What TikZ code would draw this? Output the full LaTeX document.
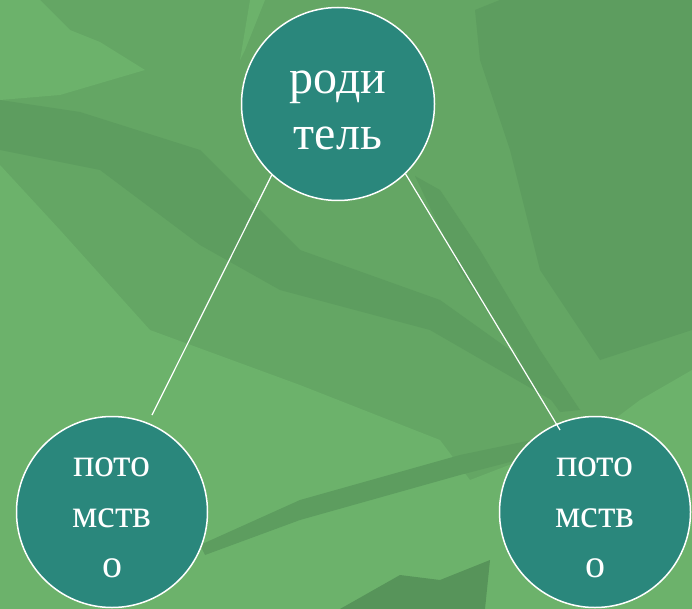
\documentclass[tikz,border=0pt]{standalone}
\usepackage{fontspec}
\setmainfont{Liberation Serif}
\definecolor{bgbase}{HTML}{64A664}
\definecolor{bglight}{HTML}{6CB26B}
\definecolor{bgdark}{HTML}{5D9D5F}
\definecolor{bgdarker}{HTML}{57945A}
\definecolor{tealfill}{HTML}{2A877C}
\tikzset{
  bubble/.style={circle, draw=white, line width=1.5pt, fill=tealfill, inner sep=0pt},
  bigbubble/.style={bubble, minimum size=193pt},
  smallbubble/.style={bubble, minimum size=191pt},
  bigtext/.style={text=white, align=center, inner sep=0pt, font=\fontsize{48}{56}\selectfont},
  smalltext/.style={text=white, align=center, inner sep=0pt, font=\fontsize{40}{50.5}\selectfont},
  link/.style={draw=white, line width=1.2pt}
}
\begin{document}
\begin{tikzpicture}[x=1pt,y=-1pt]
\useasboundingbox (0,0) rectangle (692,609);
% background
\fill[bgbase] (0,0) rectangle (692,609);
\fill[bglight] (0,0) -- (40,0) -- (70,30) -- (100,42) -- (145,70) -- (60,95) -- (0,100) -- cycle;
\fill[bglight] (250,0) -- (265,0) -- (245,50) -- (240,60) -- cycle;
\fill[bglight] (590,0) -- (612,0) -- (692,170) -- (692,215) -- cycle;
\fill[bglight] (0,165) -- (60,230) -- (150,330) -- (300,385) -- (440,440) -- (470,480) -- (600,430) -- (640,400) -- (692,370) -- (692,609) -- (0,609) -- cycle;
\fill[bgdark] (0,100) -- (80,112) -- (200,150) -- (300,250) -- (440,300) -- (552,380) -- (560,405) -- (430,330) -- (280,290) -- (200,245) -- (100,170) -- (0,150) -- cycle;
\fill[bgdark] (415,176) -- (440,190) -- (480,250) -- (540,350) -- (580,410) -- (560,412) -- (500,330) -- (460,270) -- cycle;
\fill[bgdark] (200,545) -- (300,500) -- (460,455) -- (580,430) -- (575,445) -- (460,475) -- (300,520) -- (205,555) -- cycle;
\fill[bgdark] (475,10) -- (480,60) -- (510,150) -- (540,270) -- (600,360) -- (692,330) -- (692,0) -- (500,0) -- cycle;
\fill[bgdarker] (340,609) -- (400,575) -- (440,580) -- (490,560) -- (485,609) -- cycle;
% nodes
\node[bigbubble] (parent) at (338,104) {};
\node[smallbubble] (childL) at (112,512) {};
\node[smallbubble] (childR) at (595,512) {};
\node[bigtext] (parenttext) at ([yshift=-6pt]parent.center) {роди\\тель};
\node[smalltext] (childLtext) at ([yshift=-6pt]childL.center) {пото\\мств\\о};
\node[smalltext] (childRtext) at ([yshift=-6pt]childR.center) {пото\\мств\\о};
\coordinate (lend) at (152,415);
\coordinate (rend) at (560,430);
% connectors
\draw[link] (parent.227.5) -- (lend);
\draw[link] (parent.314.2) -- (rend);
\end{tikzpicture}
\end{document}
